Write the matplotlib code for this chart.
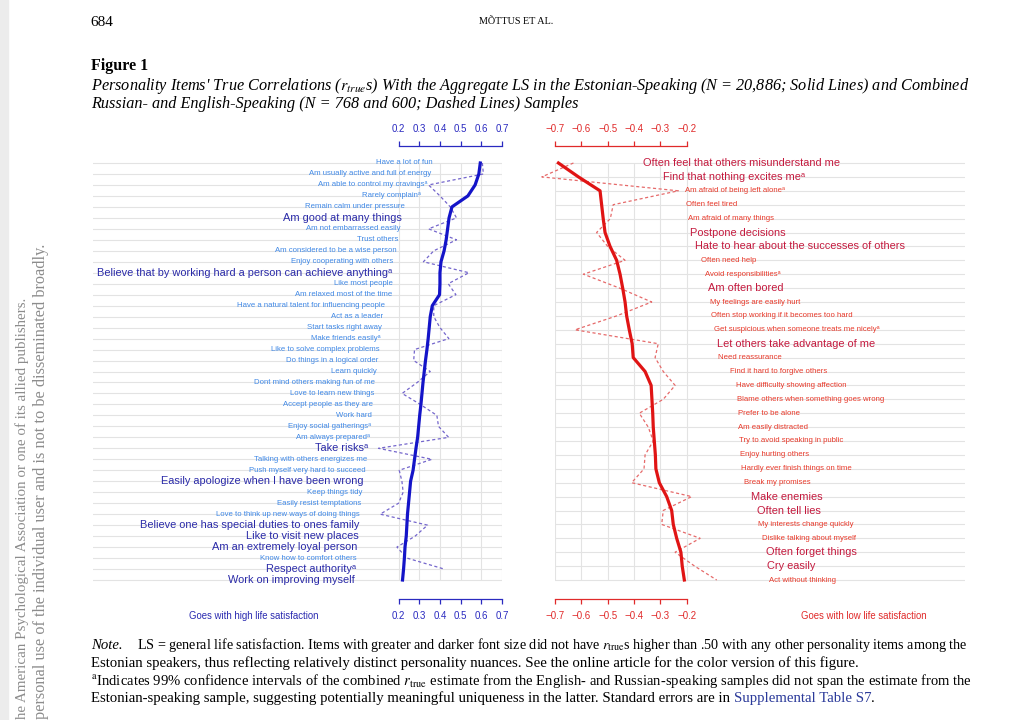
"""Figure 1 of Mõttus et al.: item correlations with life satisfaction."""

import numpy as np
import matplotlib
matplotlib.use("Agg")
import matplotlib.pyplot as plt
from matplotlib.patches import Rectangle

W, H = 1009, 720
SUP = "\u1d43"

# left panel: positive correlates
left_items = [
    "Have a lot of fun", "Am usually active and full of energy",
    "Am able to control my cravings" + SUP, "Rarely complain" + SUP,
    "Remain calm under pressure", "Am good at many things",
    "Am not embarrassed easily", "Trust others",
    "Am considered to be a wise person", "Enjoy cooperating with others",
    "Believe that by working hard a person can achieve anything" + SUP,
    "Like most people", "Am relaxed most of the time",
    "Have a natural talent for influencing people", "Act as a leader",
    "Start tasks right away", "Make friends easily" + SUP,
    "Like to solve complex problems", "Do things in a logical order",
    "Learn quickly", "Dont mind others making fun of me",
    "Love to learn new things", "Accept people as they are", "Work hard",
    "Enjoy social gatherings" + SUP, "Am always prepared" + SUP,
    "Take risks" + SUP, "Talking with others energizes me",
    "Push myself very hard to succeed",
    "Easily apologize when I have been wrong", "Keep things tidy",
    "Easily resist temptations", "Love to think up new ways of doing things",
    "Believe one has special duties to ones family",
    "Like to visit new places", "Am an extremely loyal person",
    "Know how to comfort others", "Respect authority" + SUP,
    "Work on improving myself",
]
left_big = [5, 10, 26, 29, 33, 34, 35, 37, 38]
left_est = [0.595, 0.588, 0.57, 0.535, 0.458, 0.444, 0.437, 0.43, 0.42, 0.405,
            0.40, 0.40, 0.398, 0.363, 0.353, 0.348, 0.343, 0.337, 0.33, 0.324,
            0.318, 0.313, 0.308, 0.302, 0.297, 0.292, 0.284, 0.277, 0.27, 0.258,
            0.253, 0.248, 0.243, 0.24, 0.237, 0.231, 0.228, 0.224, 0.219]
left_comb = [0.605, 0.61, 0.345, 0.40, 0.45, 0.48, 0.345, 0.48, 0.37, 0.32,
             0.54, 0.44, 0.477, 0.37, 0.37, 0.40, 0.443, 0.277, 0.273, 0.353,
             0.29, 0.217, 0.305, 0.385, 0.393, 0.442, 0.103, 0.361, 0.203, 0.216,
             0.222, 0.20, 0.111, 0.34, 0.28, 0.192, 0.24, 0.42, np.nan]
left_ticks = [0.2, 0.3, 0.4, 0.5, 0.6, 0.7]

# right panel: negative correlates
right_items = [
    "Often feel that others misunderstand me",
    "Find that nothing excites me" + SUP,
    "Am afraid of being left alone" + SUP, "Often feel tired",
    "Am afraid of many things", "Postpone decisions",
    "Hate to hear about the successes of others", "Often need help",
    "Avoid responsibilities" + SUP, "Am often bored",
    "My feelings are easily hurt", "Often stop working if it becomes too hard",
    "Get suspicious when someone treats me nicely" + SUP,
    "Let others take advantage of me", "Need reassurance",
    "Find it hard to forgive others", "Have difficulty showing affection",
    "Blame others when something goes wrong", "Prefer to be alone",
    "Am easily distracted", "Try to avoid speaking in public",
    "Enjoy hurting others", "Hardly ever finish things on time",
    "Break my promises", "Make enemies", "Often tell lies",
    "My interests change quickly", "Dislike talking about myself",
    "Often forget things", "Cry easily", "Act without thinking",
]
right_big = [0, 1, 5, 6, 9, 13, 24, 25, 28, 29]
right_est = [-0.687, -0.611, -0.529, -0.523, -0.517, -0.51, -0.491, -0.466,
             -0.453, -0.443, -0.434, -0.428, -0.418, -0.407, -0.403, -0.358,
             -0.335, -0.332, -0.329, -0.327, -0.323, -0.319, -0.317, -0.304,
             -0.276, -0.257, -0.251, -0.238, -0.222, -0.217, -0.209]
right_comb = [-0.63, -0.75, -0.232, -0.479, -0.49, -0.542, -0.50, -0.434,
              -0.592, -0.455, -0.333, -0.466, -0.624, -0.308, -0.32, -0.289,
              -0.244, -0.289, -0.38, -0.346, -0.327, -0.358, -0.362, -0.409,
              -0.181, -0.289, -0.295, -0.149, -0.244, -0.17, -0.086]
right_ticks = [-0.7, -0.6, -0.5, -0.4, -0.3, -0.2]

plt.rcParams["mathtext.fontset"] = "stix"
SANS = ["Liberation Sans", "DejaVu Sans"]
SERIF = ["Liberation Serif", "DejaVu Serif"]
NOTE_SIZE = 10.6


def box(l, t, r, b):
    return [l / W, 1 - b / H, (r - l) / W, (b - t) / H]


def ftext(x, y, s, **kw):
    return fig.text(x / W, 1 - y / H, s, **kw)


def panel(ax, items, big, est, comb, ticks, side, c_line, c_dash,
          c_small, c_big, c_axis):
    n = len(items)
    rows = np.arange(n)
    for i in rows:
        ax.axhline(i, color="#e3e3e3", lw=0.8, zorder=0)
    ax.vlines(ticks, 0, n - 1, color="#e3e3e3", lw=0.8, zorder=0)
    ax.plot(comb, rows, color=c_dash, lw=0.9, ls=(0, (2.5, 2)),
            clip_on=False, zorder=2)
    ax.plot(est, rows, color=c_line, lw=2.3, zorder=3)
    for i, s in enumerate(items):
        large = i in big
        if side == "left":
            x, ha = est[i] - 0.23, "right"
        else:
            x, ha = est[i] + 0.322, "left"
        ax.text(x, i, s, ha=ha, va="center", family=SANS,
                fontsize=7.9 if large else 5.6,
                color=c_big if large else c_small)
    for k in ("left", "right"):
        ax.spines[k].set_visible(False)
    for k in ("top", "bottom"):
        ax.spines[k].set_color(c_axis)
        ax.spines[k].set_linewidth(0.9)
        ax.spines[k].set_bounds(ticks[0], ticks[-1])
    ax.set_xticks(ticks)
    ax.set_xticklabels([f"{t:.1f}".replace("-", "\u2212") for t in ticks],
                       family=SANS)
    ax.tick_params(axis="x", top=True, labeltop=True, bottom=True,
                   labelbottom=True, direction="out", length=3.4, width=0.9,
                   color=c_axis, labelcolor=c_axis, labelsize=7, pad=5.5)
    ax.set_yticks([])
    ax.set_facecolor("none")


fig = plt.figure(figsize=(W / 100, H / 100), dpi=100)
fig.patches.append(Rectangle((0, 0), 8 / W, 1, transform=fig.transFigure,
                             color="#ececec", zorder=0))

axL = fig.add_axes(box(93, 146, 502, 599))
axL.set_xlim(0.7 - 409 / 206.8, 0.7)
axL.set_ylim(38 + 19 / 10.974, -17 / 10.974)
panel(axL, left_items, left_big, left_est, left_comb, left_ticks, "left",
      "#1414c8", "#7466cc", "#3f88e6", "#2a2aa8", "#2a2ac0")

axR = fig.add_axes(box(555, 146, 965, 599))
axR.set_xlim(-0.7, -0.7 + 410 / 263.4)
axR.set_ylim(30 + 19 / 13.9, -17 / 13.9)
panel(axR, right_items, right_big, right_est, right_comb, right_ticks, "right",
      "#e01414", "#e66a6a", "#e8392a", "#c41a3e", "#e02a2a")

ftext(254, 616, "Goes with high life satisfaction", ha="center", va="center",
      family=SANS, fontsize=6.9, color="#2a2ab0")
ftext(864, 616, "Goes with low life satisfaction", ha="center", va="center",
      family=SANS, fontsize=6.9, color="#e02a2a")

# page header and caption
ftext(90, 22, "684", family=SERIF, fontsize=11, va="center")
ftext(516, 22, "MÕTTUS ET AL.", family=SERIF, fontsize=7.3, va="center",
      ha="center")
ftext(91, 66, "Figure 1", family=SERIF, fontsize=11.5, weight="bold",
      va="center")
ftext(91, 86, "Personality Items' True Correlations ($r_{true}$s) With the "
      "Aggregate LS in the Estonian-Speaking (N = 20,886; Solid Lines) and "
      "Combined", family=SERIF, style="italic", fontsize=11.7, va="center")
ftext(91, 104, "Russian- and English-Speaking (N = 768 and 600; Dashed Lines) "
      "Samples", family=SERIF, style="italic", fontsize=11.7, va="center")

# note
ftext(91, 649, "Note.", family=SERIF, style="italic", fontsize=NOTE_SIZE,
      va="baseline")
ftext(137, 649, "LS = general life satisfaction. Items with greater and darker "
      "font size did not have $r_{\\mathrm{true}}$s higher than .50 with any "
      "other personality items among the", family=SERIF, fontsize=10.15,
      va="baseline")
ftext(91, 667, "Estonian speakers, thus reflecting relatively distinct "
      "personality nuances. See the online article for the color version of "
      "this figure.", family=SERIF, fontsize=NOTE_SIZE, va="baseline")
ftext(91, 685, "$^{\\mathrm{a}}$Indicates 99% confidence intervals of the "
      "combined $r_{\\mathrm{true}}$ estimate from the English- and "
      "Russian-speaking samples did not span the estimate from the",
      family=SERIF, fontsize=10.5, va="baseline")
t4 = ftext(91, 705, "Estonian-speaking sample, suggesting potentially "
           "meaningful uniqueness in the latter. Standard errors are in ",
           family=SERIF, fontsize=NOTE_SIZE, va="bottom")
s7 = fig.add_artist(plt.Annotation(
    "Supplemental Table S7", xy=(1, 0), xycoords=t4, va="bottom",
    family=SERIF, fontsize=NOTE_SIZE, color="#2b3a9a"))
fig.add_artist(plt.Annotation(".", xy=(1, 0), xycoords=s7, va="bottom",
                              family=SERIF, fontsize=NOTE_SIZE))

# side watermark at the page edge
ftext(22, 719, "he American Psychological Association or one of its allied "
      "publishers.", rotation=90, ha="center", va="bottom", family=SERIF,
      fontsize=10.8, color="#8c8c8c")
ftext(41, 719, "personal use of the individual user and is not to be "
      "disseminated broadly.", rotation=90, ha="center", va="bottom",
      family=SERIF, fontsize=11.7, color="#8c8c8c")

fig.savefig("out.png", dpi=100)
